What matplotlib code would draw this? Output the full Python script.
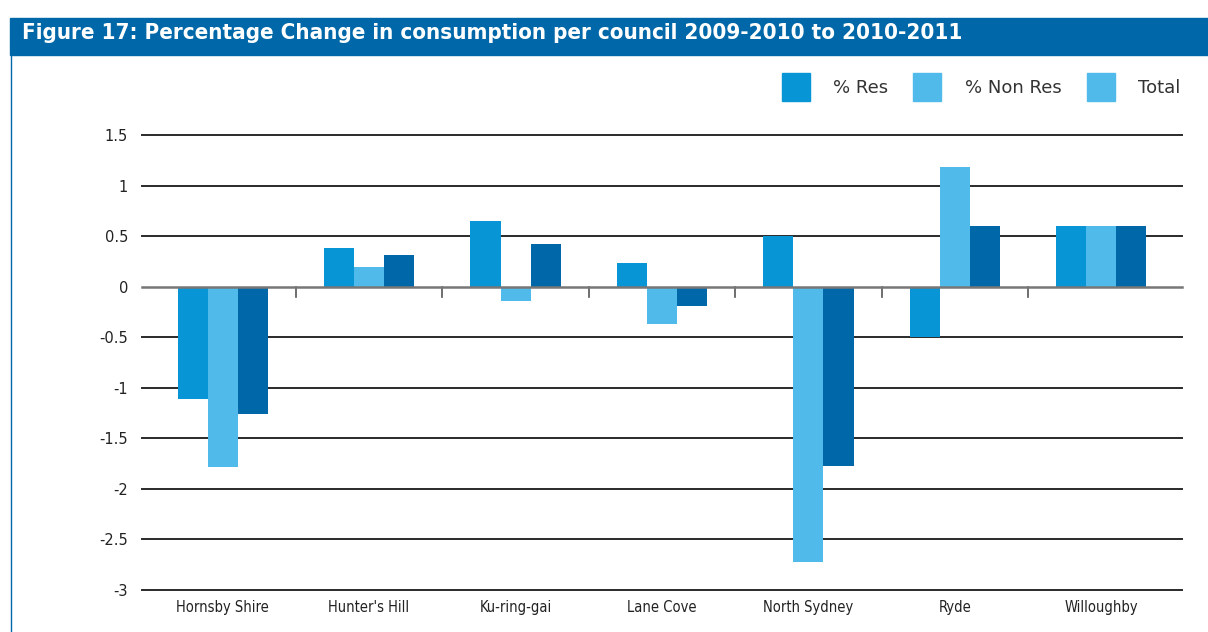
import matplotlib.pyplot as plt
import numpy as np
from matplotlib.patches import Rectangle, Patch

councils = ["Hornsby Shire", "Hunter's Hill", "Ku-ring-gai", "Lane Cove",
            "North Sydney", "Ryde", "Willoughby"]
res = [-1.11, 0.38, 0.65, 0.23, 0.50, -0.50, 0.60]
non_res = [-1.78, 0.19, -0.14, -0.37, -2.72, 1.18, 0.60]
total = [-1.26, 0.31, 0.42, -0.19, -1.77, 0.60, 0.60]
yticks = [1.5, 1, 0.5, 0, -0.5, -1, -1.5, -2, -2.5, -3]

c_res = '#0795D6'
c_non = '#50BBEB'
c_tot = '#0068A9'

fig = plt.figure(figsize=(12.08, 6.32), dpi=100)

# title band
fig.patches.append(Rectangle((10 / 1208, 1 - 55 / 632), 1198 / 1208, 37 / 632,
                             transform=fig.transFigure, color='#0068A9', zorder=0))
fig.text(22 / 1208, 1 - 33 / 632, "Figure 17: Percentage Change in consumption per council 2009-2010 to 2010-2011",
         color='white', fontsize=16, fontweight='bold', family='DejaVu Sans',
         fontstretch='condensed', va='center', ha='left')
fig.add_artist(plt.Line2D([10.5 / 1208, 10.5 / 1208], [0, 1 - 55 / 632],
                          transform=fig.transFigure, color='#0068A9', lw=1))

ax = fig.add_axes([142 / 1208, 1 - 590 / 632, 1040 / 1208, 455 / 632])
x = np.arange(len(councils))
w = 0.205
ax.bar(x - w, res, w, color=c_res, zorder=3)
ax.bar(x, non_res, w, color=c_non, zorder=3)
ax.bar(x + w, total, w, color=c_tot, zorder=3)

ax.set_xlim(-0.55, 6.55)
ax.set_ylim(-3, 1.5)
ax.set_yticks(yticks)
ax.set_yticklabels([f"{v:g}" for v in yticks], fontsize=10.5, color='#222222')
for v in yticks:
    if v == 0:
        ax.axhline(0, color='#777777', lw=1.8, zorder=4, clip_on=False)
    else:
        ax.axhline(v, color='#2a2a2a', lw=1.4, zorder=1, clip_on=False)

# separator ticks under zero line
for s in x[:-1] + 0.5:
    ax.plot([s, s], [0, -0.1], color='#555555', lw=1.2, zorder=2)

ax.set_xticks(x)
ax.set_xticklabels(councils, fontsize=10.5, family='DejaVu Sans', fontstretch='condensed',
                   color='#222222')
ax.tick_params(axis='x', length=0, pad=7)
ax.tick_params(axis='y', length=0, pad=10)
for sp in ax.spines.values():
    sp.set_visible(False)

handles = [Patch(color=c_res), Patch(color=c_non), Patch(color=c_non)]
fig.legend(handles, ['% Res', '% Non Res', 'Total'], loc='upper right',
           bbox_to_anchor=(1197 / 1208, 1 - 57 / 632), ncol=3, frameon=False,
           fontsize=13, handlelength=1.55, handleheight=2.0, handletextpad=1.3,
           columnspacing=1.4, labelcolor='#333333')

fig.savefig('out.png', dpi=100)
